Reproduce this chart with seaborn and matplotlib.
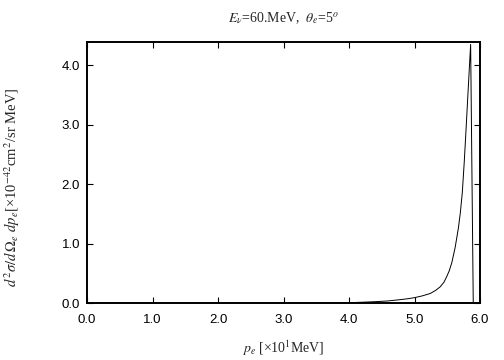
import matplotlib
matplotlib.use("Agg")
import matplotlib.pyplot as plt
import seaborn as sns
import pandas as pd
from matplotlib.ticker import FormatStrFormatter

p_e = [3.90, 4.00, 4.20, 4.40, 4.60, 4.77, 4.90, 5.00, 5.12, 5.24, 5.32, 5.39,
       5.45, 5.49, 5.53, 5.57, 5.62, 5.67, 5.70, 5.73, 5.76, 5.79, 5.82, 5.857, 5.897]
xsec = [0.0, 0.005, 0.013, 0.022, 0.035, 0.055, 0.072, 0.09, 0.12, 0.16, 0.21, 0.27,
        0.35, 0.44, 0.54, 0.68, 0.93, 1.26, 1.52, 1.86, 2.38, 2.98, 3.60, 4.35, 0.0]

xticks = [0.0, 1.0, 2.0, 3.0, 4.0, 5.0, 6.0]
yticks = [0.0, 1.0, 2.0, 3.0, 4.0]

df = pd.DataFrame({"p": p_e, "s": xsec})

sns.set_theme(style="ticks")
plt.rcParams["font.family"] = ["Liberation Sans", "DejaVu Sans"]
plt.rcParams["mathtext.fontset"] = "stix"

fig = plt.figure(figsize=(5.04, 3.6), dpi=100)
ax = fig.add_axes([87/504, 1-303/360, (480-87)/504, (303-42)/360])
sns.lineplot(data=df, x="p", y="s", ax=ax, color="black", linewidth=0.7,
             sort=False, estimator=None)

ax.set_xlim(0, 6.0)
ax.set_ylim(0, 4.39)
ax.set_xticks(xticks)
ax.set_yticks(yticks)
ax.xaxis.set_major_formatter(FormatStrFormatter("%.1f"))
ax.yaxis.set_major_formatter(FormatStrFormatter("%.1f"))
ax.tick_params(direction="in", top=True, right=True, length=4.5, width=0.8,
               labelsize=9.5, colors="black")
ax.tick_params(axis="x", pad=8)
ax.tick_params(axis="y", pad=5)
for s in ax.spines.values():
    s.set_linewidth(1.4)
    s.set_color("black")

serif = ["Liberation Serif", "DejaVu Serif"]
ax.set_xlabel(r"$p_e$ [×10$^1$MeV]", fontsize=10, family=serif, labelpad=9)
ax.set_ylabel(r"$d^2\sigma/d\,\Omega_e\ dp_e$[×10$^{-42}$cm$^2$/sr MeV]",
              fontsize=10.5, family=serif)
ax.yaxis.set_label_coords(-0.165, 0.445)
ax.set_title(r"$E_\nu$=60.MeV,  $\theta_e$=5$^o$", fontsize=10, family=serif, pad=14)

fig.savefig("out.png", dpi=100)
